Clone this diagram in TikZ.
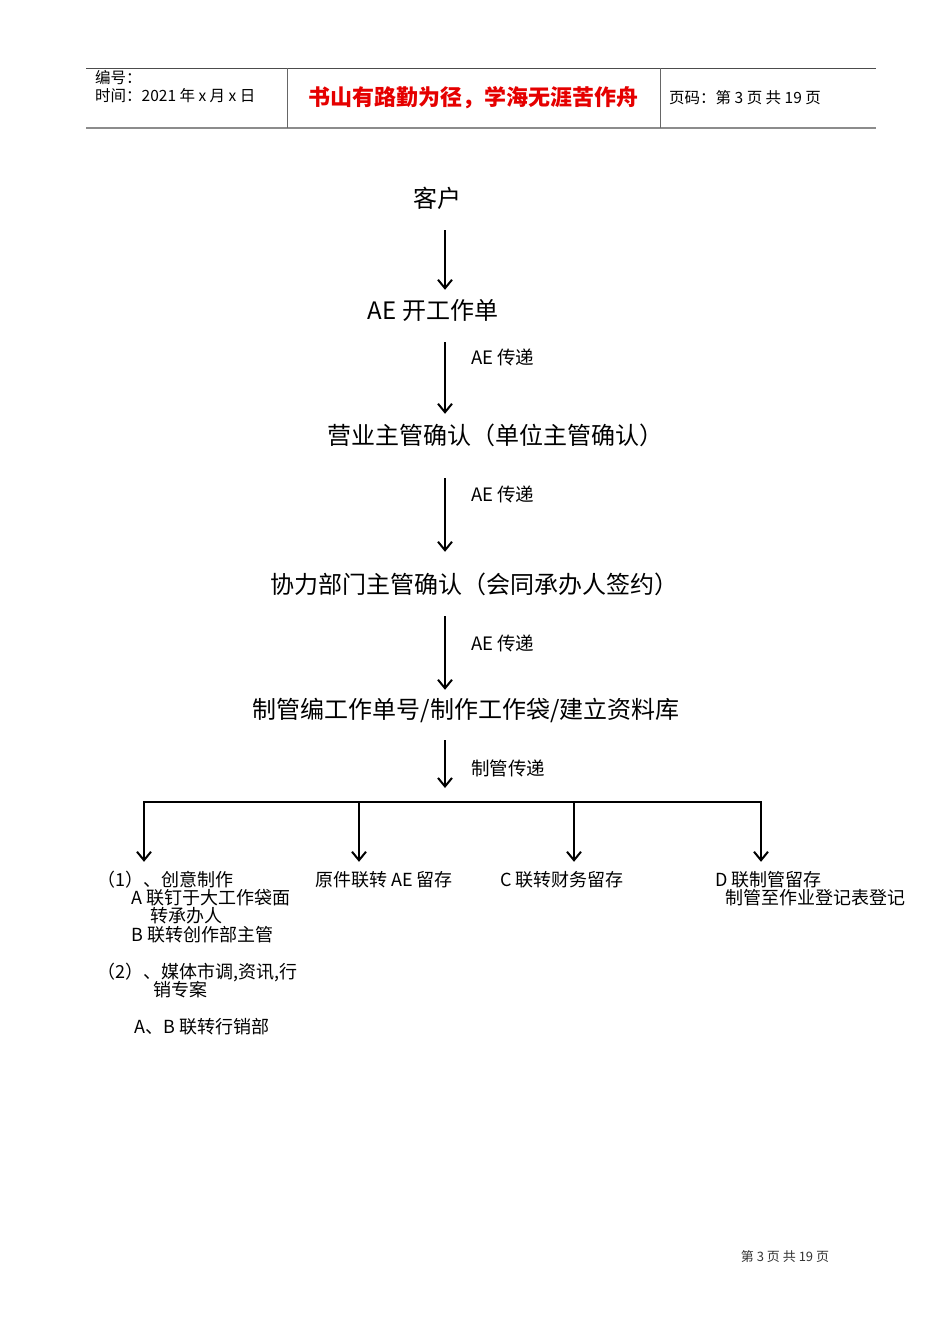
\documentclass[tikz,border=0pt]{standalone}
\usepackage{fontspec}
\setmainfont{Liberation Sans}
\newfontfamily\cjk{Noto Sans CJK SC}
\usetikzlibrary{arrows.meta}

\begin{document}
\begin{tikzpicture}[x=1pt,y=-1pt,
    main/.style={font=\cjk\fontsize{24}{28}\selectfont,inner sep=0pt,text height=21.1pt,text depth=2.9pt},
    lbl/.style={font=\cjk\fontsize{18.5}{22}\selectfont,anchor=west,inner sep=0pt,text height=16.3pt,text depth=2.2pt},
    note/.style={font=\cjk\fontsize{18}{21}\selectfont,anchor=west,inner sep=0pt,text height=15.8pt,text depth=2.2pt},
    hdr/.style={font=\cjk\fontsize{15.5}{18}\selectfont,anchor=west,inner sep=0pt,text height=13.6pt,text depth=1.9pt},
    bar/.style={line width=2pt},
    flow/.style={line width=2pt,-{Straight Barb[length=8.5pt,width=14pt,line width=2pt]}}]
        \useasboundingbox (0,0) rectangle (950,1344);

        % Header
        \draw[black!70,line width=0.8pt] (86,68) -- (876,68);
        \draw[black!45,line width=2.5pt] (86,128) -- (876,128);
        \draw[black!60,line width=0.8pt] (287,68) -- (287,128);  % Left divider
        \draw[black!60,line width=0.8pt] (660,68) -- (660,128);  % Right divider
        \node[hdr] (bianhao) at (95,78) {编号：};
        \node[hdr] (shijian) at (95,96) {时间：2021 年 x 月 x 日};
        \node[font=\cjk\bfseries\fontsize{22}{26}\selectfont,text=red!90!black,inner sep=0pt] (motto) at (473,98) {书山有路勤为径，学海无涯苦作舟};
        \node[hdr] (yema) at (669,98) {页码：第 3 页 共 19 页};

        % Flow
        \coordinate (spine) at (445,0);
        \node[main] (kehu) at (437,198) {客户};
        \node[main] (aebill) at (433,310) {AE 开工作单};
        \node[main] (yingye) at (495,435) {营业主管确认（单位主管确认）};
        \node[main] (xieli) at (474,584) {协力部门主管确认（会同承办人签约）};
        \node[main] (zhiguan) at (466,709) {制管编工作单号/制作工作袋/建立资料库};

        \draw[flow,shorten <=20pt,shorten >=8pt] (kehu.south -| spine) -- (aebill.north -| spine);
        \draw[flow,shorten <=20pt,shorten >=9pt] (aebill.south -| spine) -- (yingye.north -| spine);
        \draw[flow,shorten <=31pt,shorten >=20pt] (yingye.south -| spine) -- (xieli.north -| spine);
        \draw[flow,shorten <=20pt,shorten >=7pt] (xieli.south -| spine) -- (zhiguan.north -| spine);

        \node[lbl] (pass1) at (471,357) {AE 传递};
        \node[lbl] (pass2) at (471,494) {AE 传递};
        \node[lbl] (pass3) at (471,643) {AE 传递};
        \node[lbl] (pass4) at (471,768) {制管传递};

        % Branches
        \coordinate (bus) at (445,802);
        \coordinate (busA) at (144,802);
        \coordinate (busB) at (359,802);
        \coordinate (busC) at (574,802);
        \coordinate (busD) at (761,802);
        \draw[flow,shorten <=19pt,shorten >=14pt] (zhiguan.south -| spine) -- (bus);
        \draw[bar,line cap=rect] (busA) -- (busD);

        \node[note] (partA) at (97,880) {（1）、创意制作};
        \node[note] (partA1) at (131,898) {A 联钉于大工作袋面};
        \node[note] (partA2) at (150,916) {转承办人};
        \node[note] (partA3) at (131,935) {B 联转创作部主管};
        \node[note] (partA4) at (97,972) {（2）、媒体市调,资讯,行};
        \node[note] (partA5) at (153,990) {销专案};
        \node[note] (partA6) at (134,1027) {A、B 联转行销部};
        \node[note] (partB) at (315,880) {原件联转 AE 留存};
        \node[note] (partC) at (500,880) {C 联转财务留存};
        \node[note] (partD) at (715,880) {D 联制管留存};
        \node[note] (partD1) at (725,898) {制管至作业登记表登记};

        \draw[flow,shorten >=9pt] (busA) -- (busA |- partA.north);
        \draw[flow,shorten >=9pt] (busB) -- (busB |- partB.north);
        \draw[flow,shorten >=9pt] (busC) -- (busC |- partC.north);
        \draw[flow,shorten >=9pt] (busD) -- (busD |- partD.north);

        % Footer
        \node[font=\cjk\fontsize{13}{16}\selectfont,text=black!80,inner sep=0pt] (footer) at (785,1257) {第 3 页 共 19 页};
\end{tikzpicture}
\end{document}
